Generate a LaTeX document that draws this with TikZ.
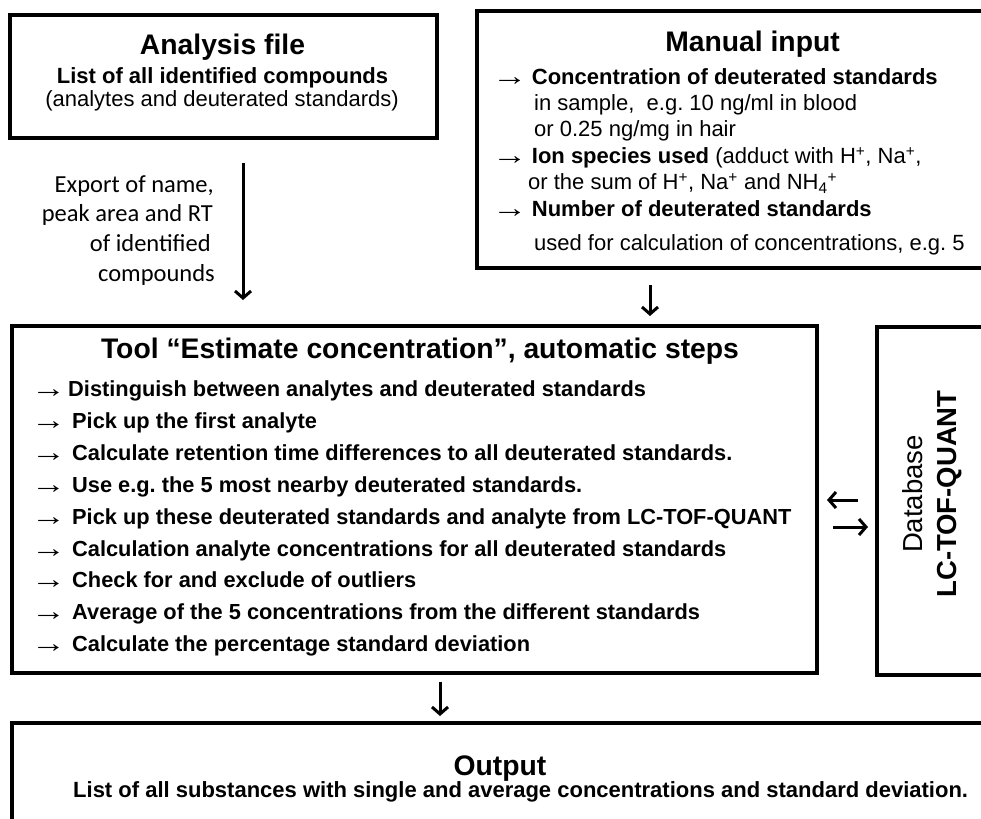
\documentclass[tikz,border=0pt]{standalone}
\usepackage{fontspec}
\setmainfont{Liberation Sans}
\newfontfamily\calibrifont{Carlito}
\usetikzlibrary{arrows.meta}
\frenchspacing

\newcommand{\headfont}{\fontsize{28.3}{34}\selectfont\bfseries}
\newcommand{\bodyfont}{\fontsize{22}{26}\selectfont}
\newcommand{\stepfont}{\fontsize{21.8}{26}\selectfont\bfseries}
\newcommand{\notefont}{\calibrifont\fontsize{24.5}{29.5}\selectfont}
\newcommand{\dbfont}{\fontsize{27.5}{34}\selectfont}
\newcommand{\ra}{\makebox[25pt][l]{\raisebox{-1pt}{\scalebox{1.6}[1.25]{\mdseries →}}}}

\begin{document}
\begin{tikzpicture}[x=1pt, y=-1pt,
    box/.style={draw, line width=4pt, inner sep=0pt},
    flow/.style={-{Straight Barb[length=7pt,width=16pt]}, line width=3pt},
    txt/.style={anchor=base west, inner sep=0pt},
    ctxt/.style={anchor=base, inner sep=0pt}]
    \clip (0,0) rectangle (981,818);

    % Analysis file
    \node[box, minimum width=427.5pt, minimum height=123pt] (analysis) at (223.25,77) {};
    \node[ctxt, font=\headfont] (antitle) at (222.5,54.3) {Analysis file};
    \node[ctxt, font=\bodyfont\bfseries] (anlist) at (222.5,84) {List of all identified compounds};
    \node[ctxt, font=\bodyfont] (ansub) at (222,106.5) {(analytes and deuterated standards)};

    % export note
    \node[anchor=base east, inner sep=0pt, font=\notefont] (ex1) at (214,192.5) {Export of name,};
    \node[anchor=base east, inner sep=0pt, font=\notefont] (ex2) at (213,222) {peak area and RT};
    \node[anchor=base east, inner sep=0pt, font=\notefont] (ex3) at (211,251.5) {of identified};
    \node[anchor=base east, inner sep=0pt, font=\notefont] (ex4) at (215,281) {compounds};

    % Manual input
    \node[box, minimum width=523pt, minimum height=257pt] (manual) at (738.5,139.5) {};
    \node[ctxt, font=\headfont] (mantitle) at (752.5,51.7) {Manual input};
    \node[txt, font=\bodyfont] (m1) at (492,85) {\ra\hspace{14.7pt}\textbf{Concentration of deuterated standards}};
    \node[txt, font=\bodyfont] (m2) at (534,111) {in sample,~ e.g. 10 ng/ml in blood};
    \node[txt, font=\bodyfont] (m3) at (534,137) {or 0.25 ng/mg in hair};
    \node[txt, font=\bodyfont] (m4) at (492,164) {\ra\hspace{14.7pt}\textbf{Ion species used} (adduct with H\textsuperscript{+}, Na\textsuperscript{+},};
    \node[txt, font=\bodyfont] (m5) at (528,190) {or the sum of H\textsuperscript{+}, Na\textsuperscript{+} and NH\textsubscript{4}\textsuperscript{+}};
    \node[txt, font=\bodyfont] (m6) at (492,217) {\ra\hspace{14.7pt}\textbf{Number of deuterated standards}};
    \node[txt, font=\bodyfont] (m7) at (534,250) {used for calculation of concentrations, e.g. 5};

    % Tool box
    \node[box, minimum width=805.5pt, minimum height=347.5pt] (tool) at (414.25,499.25) {};
    \node[ctxt, font=\headfont] (tooltitle) at (420,358) {Tool “Estimate concentration”, automatic steps};
    \node[txt, font=\stepfont] (s1) at (31,396.5) {\ra\hspace{12pt}Distinguish between analytes and deuterated standards};
    \node[txt, font=\stepfont] (s2) at (31,428.4) {\ra\hspace{16pt}Pick up the first analyte};
    \node[txt, font=\stepfont] (s3) at (31,460.3) {\ra\hspace{16pt}Calculate retention time differences to all deuterated standards.};
    \node[txt, font=\stepfont] (s4) at (31,492.2) {\ra\hspace{16pt}Use e.g. the 5 most nearby deuterated standards.};
    \node[txt, font=\stepfont] (s5) at (31,524.1) {\ra\hspace{16pt}Pick up these deuterated standards and analyte from LC-TOF-QUANT};
    \node[txt, font=\stepfont] (s6) at (31,556.0) {\ra\hspace{16pt}Calculation analyte concentrations for all deuterated standards};
    \node[txt, font=\stepfont] (s7) at (31,587.9) {\ra\hspace{16pt}Check for and exclude of outliers};
    \node[txt, font=\stepfont] (s8) at (31,619.8) {\ra\hspace{16pt}Average of the 5 concentrations from the different standards};
    \node[txt, font=\stepfont] (s9) at (31,651.7) {\ra\hspace{16pt}Calculate the percentage standard deviation};

    % Database
    \node[box, minimum width=123pt, minimum height=348pt] (database) at (938.5,501) {};
    \node[rotate=90, align=center, inner sep=0pt, font=\dbfont] (dbtext) at (932,494) {Database\\\textbf{LC-TOF-QUANT}};

    % Output
    \node[box, minimum width=988pt, minimum height=117.5pt] (output) at (506,781.25) {};
    \node[ctxt, font=\headfont] (outtitle) at (500,775) {Output};
    \node[txt, font=\bodyfont\bfseries] (outline) at (73,797) {List of all substances with single and average concentrations and standard deviation.};

    % arrows
    \draw[flow, shorten <=22.5pt, shorten >=23.5pt] ([xshift=19.75pt]analysis.south) -- ([xshift=-171.25pt]tool.north);
    \draw[flow, shorten <=15pt, shorten >=7.5pt] ([xshift=-88.5pt]manual.south) -- ([xshift=235.75pt]tool.north);
    \draw[flow, shorten <=7pt, shorten >=4.5pt] ([xshift=25.75pt]tool.south) -- ([xshift=-66pt]output.north);
    \draw[flow, shorten <=17pt, shorten >=8pt] ([yshift=1pt]database.west) -- ([yshift=1pt]database.west -| tool.east);
    \draw[flow, shorten <=14pt, shorten >=7pt] ([yshift=-27.75pt]tool.east) -- ([yshift=-27.75pt]tool.east -| database.west);
\end{tikzpicture}
\end{document}
